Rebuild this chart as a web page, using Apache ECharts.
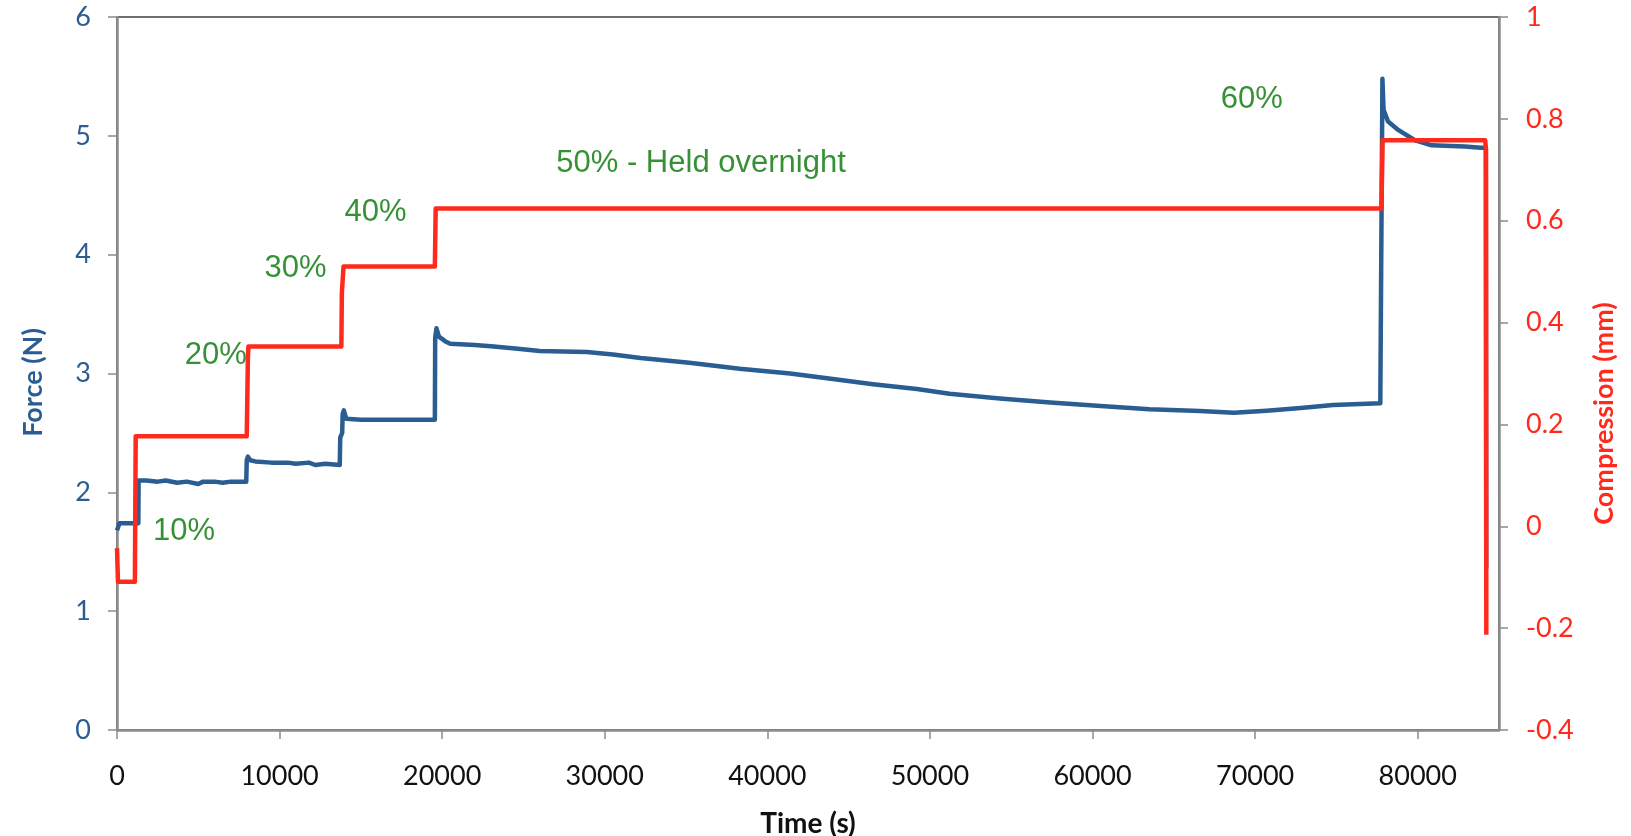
<!DOCTYPE html>
<html>
<head>
<meta charset="utf-8">
<script src="https://cdn.jsdelivr.net/npm/echarts@6/dist/echarts.min.js"></script>
<style>
html,body{margin:0;padding:0;background:#fff;}
#chart{width:1631px;height:836px;}
</style>
</head>
<body>
<div id="chart"></div>
<script>
// Force (N) vs time (s)
const forceTime = [0, 150, 1310, 1330, 1800, 2500, 3000, 3700, 4300, 5000, 5100, 5300, 6000, 6500, 7000, 7950,
  7980, 8050, 8200, 8500, 9500, 10500, 11000, 11800, 12200, 12800, 13700,
  13730, 13850, 13880, 13950, 14100, 15000, 16500, 19550,
  19570, 19650, 19800, 20200, 20500, 22000, 23000, 24500, 26000, 28900, 30500, 32200, 35200, 38300, 41400,
  44500, 46500, 48200, 49200, 51200, 54300, 57400, 60500, 63500, 66600, 68700, 70700, 72800, 74800, 77700, 77800,
  77830, 77900, 78180, 78800, 79800, 80850, 82900, 83900, 84190, 84215];
const forceValue = [1.68, 1.74, 1.74, 2.10, 2.10, 2.09, 2.10, 2.08, 2.09, 2.07, 2.06, 2.09, 2.09, 2.08, 2.09, 2.09,
  2.27, 2.30, 2.27, 2.26, 2.25, 2.25, 2.24, 2.25, 2.23, 2.24, 2.23,
  2.46, 2.50, 2.66, 2.69, 2.62, 2.61, 2.61, 2.61,
  3.30, 3.38, 3.31, 3.27, 3.25, 3.24, 3.23, 3.21, 3.19, 3.18, 3.16, 3.13, 3.09, 3.04, 3.00,
  2.945, 2.91, 2.885, 2.87, 2.83, 2.79, 2.755, 2.727, 2.70, 2.685, 2.67, 2.687, 2.71, 2.735, 2.75, 2.76,
  5.48, 5.22, 5.12, 5.05, 4.965, 4.92, 4.91, 4.90, 4.90, 1.36];

// Compression (mm) vs time (s)
const compTime = [0, 60, 1100, 1150, 7980, 8050, 8080, 13800, 13830, 13900, 13930, 19550, 19600, 77770, 77840, 84150, 84200, 84220];
const compValue = [-0.043, -0.109, -0.109, 0.177, 0.177, 0.33, 0.353, 0.353, 0.458, 0.46, 0.51, 0.51, 0.624, 0.624, 0.758, 0.758, 0.74, -0.213];

// Annotations (time, force-axis value, text)
const noteTime = [4120, 6080, 10980, 15900, 35920, 69800];
const noteForce = [1.669, 3.156, 3.885, 4.357, 4.77, 5.308];
const noteText = ['10%', '20%', '30%', '40%', '50% - Held overnight', '60%'];

// Axis ticks
const timeTicks = [0, 10000, 20000, 30000, 40000, 50000, 60000, 70000, 80000];

const forceData = forceTime.map((t, i) => [t, forceValue[i]]);
const compData = compTime.map((t, i) => [t, compValue[i]]);
const noteData = noteTime.map((t, i) => ({ name: noteText[i], value: [t, noteForce[i]] }));

const axisGrey = '#8c8c8c';
const blue = '#2a5d92';
const red = '#ff2a1c';
const green = '#037503';
const labelFont = 'Lato, "Open Sans", sans-serif';

const chart = echarts.init(document.getElementById('chart'), null, { renderer: 'canvas' });
chart.setOption({
  animation: false,
  backgroundColor: '#ffffff',
  grid: { left: 117, right: 132, top: 17, bottom: 106, outerBoundsMode: 'none', containLabel: false,
    show: true, borderColor: '#6e6e6e', borderWidth: 2, backgroundColor: 'transparent' },
  xAxis: {
    type: 'value', min: 0, max: 85000,
    name: 'Time (s)', nameLocation: 'middle', nameGap: 80,
    nameTextStyle: { fontFamily: labelFont, fontWeight: 'bold', fontSize: 28, color: '#111' },
    axisLine: { show: true, onZero: false, lineStyle: { color: axisGrey, width: 2.5 } },
    axisTick: { show: true, length: 9, lineStyle: { color: axisGrey, width: 1.5 }, customValues: timeTicks },
    axisLabel: { margin: 33, fontFamily: labelFont, fontSize: 27, color: '#111', customValues: timeTicks,
      formatter: v => String(v) },
    splitLine: { show: false }
  },
  yAxis: [
    {
      type: 'value', min: 0, max: 6, interval: 1, position: 'left',
      name: 'Force (N)', nameLocation: 'middle', nameGap: 70,
      nameTextStyle: { fontFamily: labelFont, fontWeight: 'bold', fontSize: 27, color: blue, padding: [0, 18, 0, 0] },
      axisLine: { show: true, onZero: false, lineStyle: { color: axisGrey, width: 2.5 } },
      axisTick: { show: true, length: 9, lineStyle: { color: axisGrey, width: 1.5 } },
      axisLabel: { margin: 26, fontFamily: labelFont, fontSize: 27, color: blue },
      splitLine: { show: false }
    },
    {
      type: 'value', min: -0.4, max: 1, interval: 0.2, position: 'right',
      name: 'Compression (mm)', nameLocation: 'middle', nameGap: 92,
      nameTextStyle: { fontFamily: labelFont, fontWeight: 'bold', fontSize: 27, color: red, padding: [0, 80, 0, 0] },
      axisLine: { show: true, onZero: false, lineStyle: { color: axisGrey, width: 2.5 } },
      axisTick: { show: true, length: 9, lineStyle: { color: axisGrey, width: 1.5 } },
      axisLabel: { margin: 27, fontFamily: labelFont, fontSize: 27, color: red },
      splitLine: { show: false }
    }
  ],
  series: [
    {
      name: 'Force', type: 'line', yAxisIndex: 0, data: forceData,
      showSymbol: false, symbol: 'none',
      lineStyle: { color: blue, width: 4.5, join: 'round' }, z: 2
    },
    {
      name: 'Compression', type: 'line', yAxisIndex: 1, data: compData,
      showSymbol: false, symbol: 'none',
      lineStyle: { color: red, width: 4.5, join: 'round' }, z: 3
    },
    {
      name: 'Notes', type: 'scatter', yAxisIndex: 0, data: noteData,
      symbolSize: 1, itemStyle: { color: 'rgba(0,0,0,0)' }, z: 4,
      label: { show: true, position: 'inside', formatter: '{b}', fontFamily: '"Liberation Sans", Arial, sans-serif', fontSize: 31, color: green }
    }
  ]
});
</script>
</body>
</html>
